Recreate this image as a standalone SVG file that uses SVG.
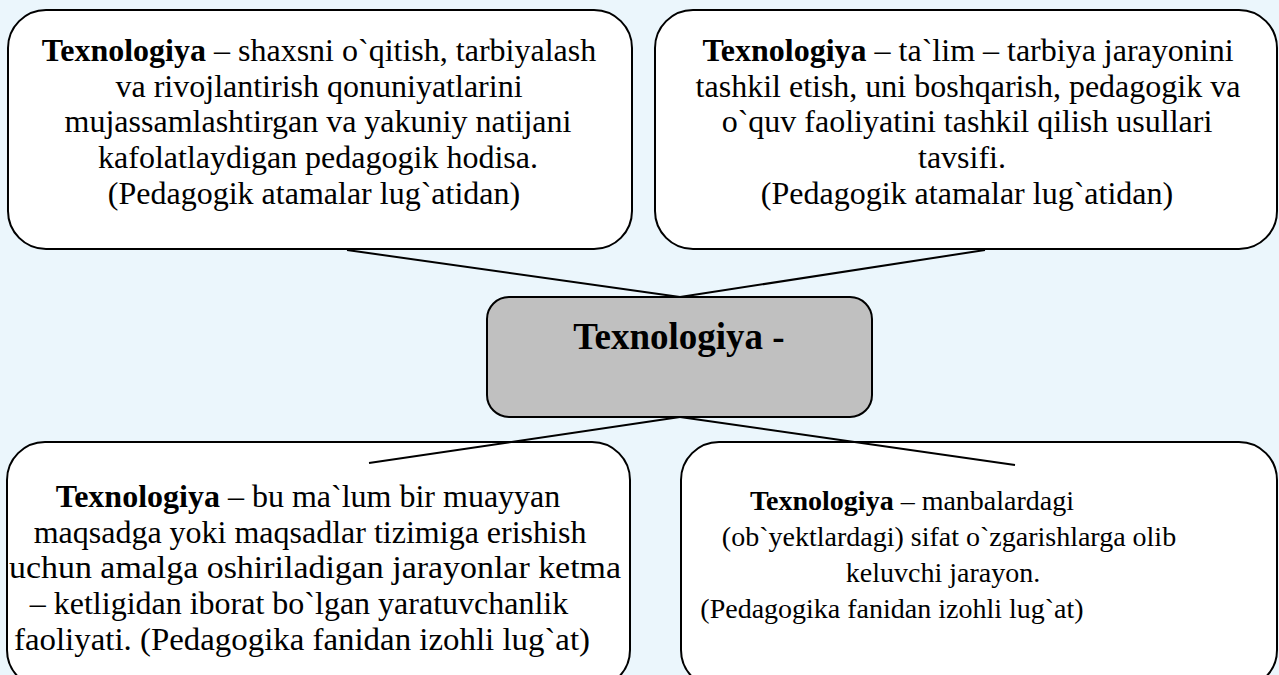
<svg xmlns="http://www.w3.org/2000/svg" width="1279" height="675" viewBox="0 0 1279 675">
<style>
.box{fill:#ffffff;stroke:#000000;stroke-width:2}
.hub{fill:#c0c0c0;stroke:#000000;stroke-width:2}
.t{font-family:"Liberation Serif","Times New Roman",serif;font-size:32px;fill:#000000;text-anchor:middle}
.s{font-size:28px}
.b{font-weight:bold}
.h{font-family:"Liberation Serif","Times New Roman",serif;font-size:37px;font-weight:bold;fill:#000000;text-anchor:middle}
.c{stroke:#000000;stroke-width:2;fill:none}
</style>
<rect x="0" y="0" width="1279" height="675" fill="#ebf6fc"/>
<g id="node-top-left">
<rect class="box" x="8" y="10" width="624" height="239" rx="38" ry="38"/>
<text class="t" x="319" y="61"><tspan class="b">Texnologiya</tspan> – shaxsni o`qitish, tarbiyalash</text>
<text class="t" x="319" y="97">va rivojlantirish qonuniyatlarini</text>
<text class="t" x="318" y="132">mujassamlashtirgan va yakuniy natijani</text>
<text class="t" x="318" y="168">kafolatlaydigan pedagogik hodisa.</text>
<text class="t" x="314" y="204">(Pedagogik atamalar lug`atidan)</text>
</g>
<g id="node-top-right">
<rect class="box" x="655" y="10" width="622" height="239" rx="38" ry="38"/>
<text class="t" x="968" y="61"><tspan class="b">Texnologiya</tspan> – ta`lim – tarbiya jarayonini</text>
<text class="t" x="968" y="97">tashkil etish, uni boshqarish, pedagogik va</text>
<text class="t" x="967" y="132">o`quv faoliyatini tashkil qilish usullari</text>
<text class="t" x="962" y="168">tavsifi.</text>
<text class="t" x="967" y="204">(Pedagogik atamalar lug`atidan)</text>
</g>
<g id="node-bottom-left">
<rect class="box" x="7" y="442" width="623" height="246" rx="38" ry="38"/>
<text class="t" x="308" y="507"><tspan class="b">Texnologiya</tspan> – bu ma`lum bir muayyan</text>
<text class="t" x="310" y="543">maqsadga yoki maqsadlar tizimiga erishish</text>
<text class="t" x="315" y="578" textLength="612" lengthAdjust="spacingAndGlyphs">uchun amalga oshiriladigan jarayonlar ketma</text>
<text class="t" x="299" y="614">– ketligidan iborat bo`lgan yaratuvchanlik</text>
<text class="t" x="302" y="650" textLength="576" lengthAdjust="spacingAndGlyphs">faoliyati. (Pedagogika fanidan izohli lug`at)</text>
</g>
<g id="node-bottom-right">
<rect class="box" x="681" y="442" width="596" height="246" rx="38" ry="38"/>
<text class="t s" x="912" y="510"><tspan class="b">Texnologiya</tspan> – manbalardagi</text>
<text class="t s" x="949" y="546">(ob`yektlardagi) sifat o`zgarishlarga olib</text>
<text class="t s" x="943" y="582">keluvchi jarayon.</text>
<text class="t s" x="892" y="618">(Pedagogika fanidan izohli lug`at)</text>
</g>
<g id="node-center">
<rect class="hub" x="487" y="297" width="385" height="120" rx="22" ry="22"/>
<text class="h" x="679" y="349">Texnologiya -</text>
</g>
<g id="connectors">
<line class="c" x1="347" y1="250" x2="680" y2="297"/>
<line class="c" x1="985" y1="250" x2="680" y2="297"/>
<line class="c" x1="680" y1="417" x2="369" y2="463"/>
<line class="c" x1="680" y1="417" x2="1015" y2="465"/>
</g>
</svg>
